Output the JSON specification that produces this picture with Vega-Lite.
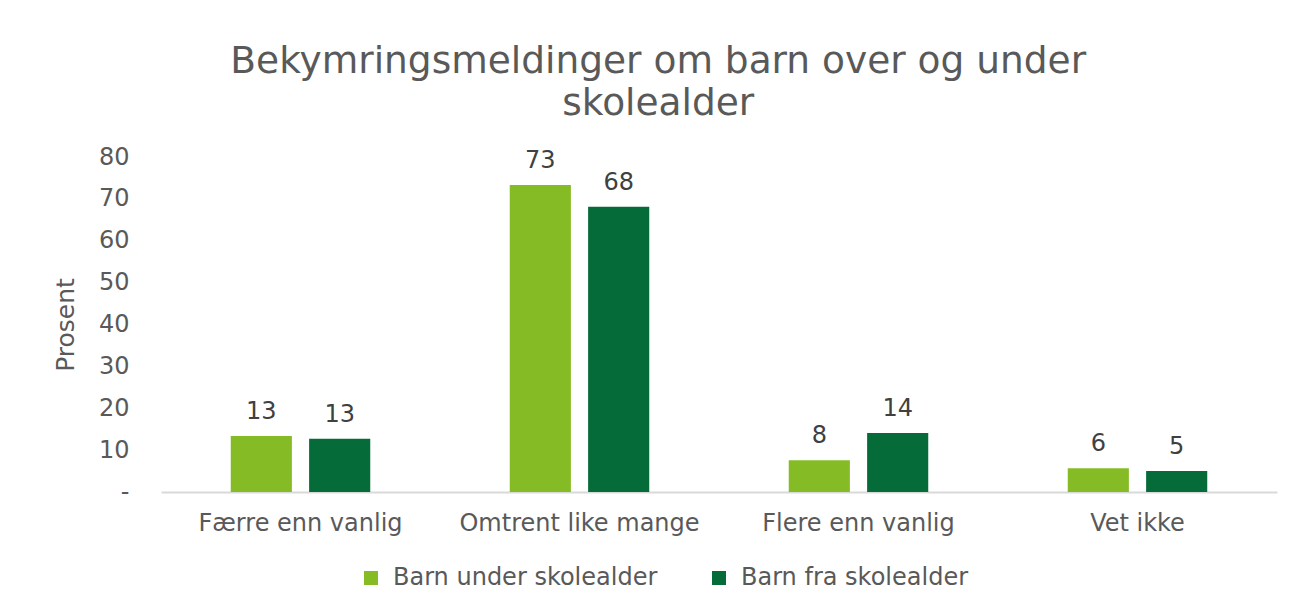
{
  "$schema": "https://vega.github.io/schema/vega-lite/v6.json",
  "width": 1116,
  "height": 335,
  "autosize": {"type": "none"},
  "padding": {"left": 161, "top": 157, "right": 18, "bottom": 114},
  "background": "white",
  "config": {
    "font": "DejaVu Sans",
    "view": {"stroke": null}
  },
  "title": {
    "text": ["Bekymringsmeldinger om barn over og under", "skolealder"],
    "fontSize": 37.5,
    "fontWeight": "normal",
    "color": "#595959",
    "anchor": "middle",
    "frame": "bounds",
    "lineHeight": 42,
    "offset": 23,
    "dx": -7
  },
  "data": {
    "values": [
      {"kategori": "Færre enn vanlig", "gruppe": "Barn under skolealder", "prosent": 13.4},
      {"kategori": "Færre enn vanlig", "gruppe": "Barn fra skolealder", "prosent": 12.7},
      {"kategori": "Omtrent like mange", "gruppe": "Barn under skolealder", "prosent": 73.3},
      {"kategori": "Omtrent like mange", "gruppe": "Barn fra skolealder", "prosent": 68.1},
      {"kategori": "Flere enn vanlig", "gruppe": "Barn under skolealder", "prosent": 7.6},
      {"kategori": "Flere enn vanlig", "gruppe": "Barn fra skolealder", "prosent": 14.1},
      {"kategori": "Vet ikke", "gruppe": "Barn under skolealder", "prosent": 5.7},
      {"kategori": "Vet ikke", "gruppe": "Barn fra skolealder", "prosent": 5.0}
    ]
  },
  "encoding": {
    "x": {
      "field": "kategori",
      "type": "nominal",
      "sort": null,
      "scale": {"paddingInner": 0.5, "paddingOuter": 0.25},
      "axis": {
        "title": null,
        "labelAngle": 0,
        "labelFontSize": 24,
        "labelColor": "#595959",
        "labelPadding": 19,
        "labelLimit": 0,
        "ticks": false,
        "domainColor": "#D9D9D9",
        "domainWidth": 2
      }
    },
    "xOffset": {
      "field": "gruppe",
      "type": "nominal",
      "sort": ["Barn under skolealder", "Barn fra skolealder"],
      "scale": {"paddingInner": 0.22, "paddingOuter": 0}
    },
    "y": {
      "field": "prosent",
      "type": "quantitative",
      "scale": {"domain": [0, 80], "nice": false},
      "axis": {
        "title": "Prosent",
        "titleFontSize": 25,
        "titleFontWeight": "normal",
        "titleColor": "#595959",
        "titlePadding": 20,
        "values": [0, 10, 20, 30, 40, 50, 60, 70, 80],
        "labelExpr": "datum.value == 0 ? '-' : datum.label",
        "labelFontSize": 24,
        "labelColor": "#595959",
        "labelPadding": 32,
        "ticks": false,
        "domain": false,
        "grid": false
      }
    }
  },
  "layer": [
    {
      "mark": {"type": "bar"},
      "encoding": {
        "color": {
          "field": "gruppe",
          "type": "nominal",
          "scale": {
            "domain": ["Barn under skolealder", "Barn fra skolealder"],
            "range": ["#85BC26", "#056B39"]
          },
          "legend": {
            "title": null,
            "orient": "none",
            "direction": "horizontal",
            "legendX": 198,
            "legendY": 409,
            "symbolType": "square",
            "symbolSize": 196,
            "symbolStrokeWidth": 0,
            "labelFontSize": 24,
            "labelColor": "#595959",
            "labelOffset": 10,
            "labelLimit": 0,
            "columnPadding": 49
          }
        }
      }
    },
    {
      "mark": {"type": "text", "baseline": "alphabetic", "dy": -17, "fontSize": 24, "color": "#404040"},
      "encoding": {
        "text": {"field": "prosent", "type": "quantitative", "format": ".0f"}
      }
    }
  ]
}
